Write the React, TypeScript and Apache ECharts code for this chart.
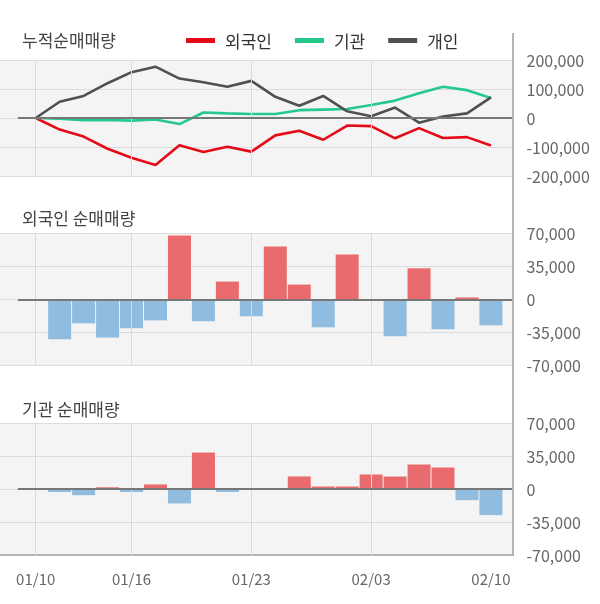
import React, { useEffect, useRef } from 'react';
import * as echarts from 'echarts';

// ---- data ----
const dates = ['01/10', '01/13', '01/14', '01/15', '01/16', '01/17', '01/20', '01/21', '01/22', '01/23',
  '01/28', '01/29', '01/30', '01/31', '02/03', '02/04', '02/05', '02/06', '02/07', '02/10'];
const foreignNet = [0, -42400, -25500, -40600, -30800, -22300, 67600, -23300, 18800, -18000,
  55900, 15600, -29700, 47400, 0, -39200, 32900, -31800, 2000, -27600];
const institutionNet = [0, -3000, -6400, 2000, -3000, 5000, -15200, 38900, -3000, 0,
  0, 13500, 2800, 2800, 15600, 13400, 26200, 23000, -11700, -27600];
const foreignCum = [0, -40000, -64000, -106000, -137000, -162000, -94000, -117000, -99000, -116000,
  -60000, -44000, -75000, -26000, -28000, -70000, -35000, -69000, -66000, -95000];
const institutionCum = [0, -2000, -8000, -7000, -9000, -5000, -21000, 19000, 16000, 14000,
  14000, 27000, 29000, 31000, 45000, 60000, 85000, 108000, 96000, 69000];
const individualCum = [0, 56000, 76000, 120000, 158000, 177000, 136000, 123000, 108000, 128000,
  73000, 42000, 76000, 23000, 6000, 36000, -16000, 5000, 16000, 71000];
const labeledDates = ['01/10', '01/16', '01/23', '02/03', '02/10'];
const gridLineDates = ['01/10', '01/16', '01/23', '02/03'];
const legendNames = ['외국인', '기관', '개인'];
const panelTitles = ['누적순매매량', '외국인 순매매량', '기관 순매매량'];
const cumAxis = { min: -200000, max: 200000, interval: 100000 };
const netAxis = { min: -70000, max: 70000, interval: 35000 };

// ---- style / layout ----
const FONT = "'Noto Sans CJK KR', 'Noto Sans', sans-serif";
const X_MIN = -1.49;
const X_MAX = 19.9;
const ZERO_START = -0.74;
const RED_LINE = '#e50a17';
const GREEN_LINE = '#24c98b';
const GRAY_LINE = '#505050';
const RED_BAR = '#ea6b6e';
const BLUE_BAR = '#8fbcdf';
const grids = [
  { top: 60, height: 116 },
  { top: 233.3, height: 132 },
  { top: 423.3, height: 131.7 },
];
const titleTops = [31, 209, 400];

export default function App() {
  const ref = useRef<HTMLDivElement>(null);
  useEffect(() => {
    if (!ref.current) return;
    const chart = echarts.init(ref.current, undefined, { renderer: 'svg' });
    const gridIdx = gridLineDates.map((d) => dates.indexOf(d));
    const labelIdx = labeledDates.map((d) => dates.indexOf(d));
    const fmt = (v: number) => Number(v).toLocaleString('en-US');

    const vLines = (z: number, xi: number) => ({
      type: 'line',
      xAxisIndex: xi,
      yAxisIndex: xi,
      data: [],
      z,
      silent: true,
      markLine: {
        silent: true,
        symbol: ['none', 'none'],
        label: { show: false },
        lineStyle: { color: '#dadada', width: 1, type: 'solid' },
        data: gridIdx.map((i) => ({ xAxis: i })),
      },
    });
    const zeroLine = (z: number, xi: number) => ({
      type: 'line',
      xAxisIndex: xi,
      yAxisIndex: xi,
      data: [],
      z,
      silent: true,
      markLine: {
        silent: true,
        symbol: ['none', 'none'],
        label: { show: false },
        lineStyle: { color: '#777777', width: 2.2, type: 'solid' },
        data: [[{ coord: [ZERO_START, 0] }, { coord: [X_MAX, 0] }]],
      },
    });
    const lineSeries = (name: string, values: number[], color: string) => ({
      name,
      type: 'line',
      xAxisIndex: 0,
      yAxisIndex: 0,
      z: 4,
      color,
      symbol: 'none',
      showSymbol: false,
      lineStyle: { width: 2.6, color },
      data: values.map((v, i) => [i, v]),
    });
    const barSeries = (values: number[], xi: number) => ({
      type: 'bar',
      xAxisIndex: xi,
      yAxisIndex: xi,
      z: 3,
      barWidth: 23,
      data: values
        .map((v, i) => ({ value: [i, v], itemStyle: { color: v >= 0 ? RED_BAR : BLUE_BAR } }))
        .filter((d) => d.value[1] !== 0),
    });

    chart.setOption({
      animation: false,
      textStyle: { fontFamily: FONT },
      title: panelTitles.map((t, i) => ({
        text: t,
        left: 22,
        top: titleTops[i],
        padding: 0,
        textStyle: { fontSize: 17, fontWeight: 'normal', color: '#444', fontFamily: FONT },
      })),
      legend: {
        data: legendNames,
        left: 186,
        top: 32,
        padding: 0,
        icon: 'rect',
        itemWidth: 29,
        itemHeight: 5,
        itemGap: 23,
        textStyle: { fontSize: 17, color: '#333', fontFamily: FONT, padding: [0, 0, 0, 5] },
      },
      grid: grids.map((g) => ({
        left: 0,
        right: 87.5,
        top: g.top,
        height: g.height,
        show: true,
        backgroundColor: '#f4f4f4',
        borderWidth: 0,
      })),
      xAxis: grids.map((_, i) => ({
        type: 'value',
        gridIndex: i,
        min: X_MIN,
        max: X_MAX,
        axisLine: i === 2
          ? { show: true, onZero: false, lineStyle: { color: '#b4b4b4', width: 2 } }
          : { show: false },
        axisTick: { show: false },
        splitLine: { show: false },
        axisLabel: i === 2
          ? {
              show: true,
              customValues: labelIdx,
              formatter: (v: number) => dates[Math.round(v)] ?? '',
              color: '#666',
              fontSize: 15,
              margin: 16,
              fontFamily: FONT,
            }
          : { show: false },
      })),
      yAxis: grids.map((_, i) => {
        const a = i === 0 ? cumAxis : netAxis;
        return {
          type: 'value',
          gridIndex: i,
          position: 'right',
          min: a.min,
          max: a.max,
          interval: a.interval,
          axisLine: { show: false },
          axisTick: { show: false },
          splitLine: { lineStyle: { color: '#dcdcdc', width: 1 } },
          axisLabel: { color: '#666', fontSize: 16, margin: 14, formatter: fmt, fontFamily: FONT },
        };
      }),
      graphic: [
        {
          type: 'line',
          shape: { x1: 513, y1: 33, x2: 513, y2: 556 },
          style: { stroke: '#b4b4b4', lineWidth: 2 },
          silent: true,
          z: 10,
        },
      ],
      series: [
        vLines(1, 0),
        zeroLine(2, 0),
        lineSeries(legendNames[0], foreignCum, RED_LINE),
        lineSeries(legendNames[1], institutionCum, GREEN_LINE),
        lineSeries(legendNames[2], individualCum, GRAY_LINE),
        vLines(1, 1),
        barSeries(foreignNet, 1),
        zeroLine(5, 1),
        vLines(1, 2),
        barSeries(institutionNet, 2),
        zeroLine(5, 2),
      ],
    });
    return () => chart.dispose();
  }, []);
  return <div ref={ref} style={{ position: 'fixed', left: 0, top: 0, width: 600, height: 604 }} />;
}
